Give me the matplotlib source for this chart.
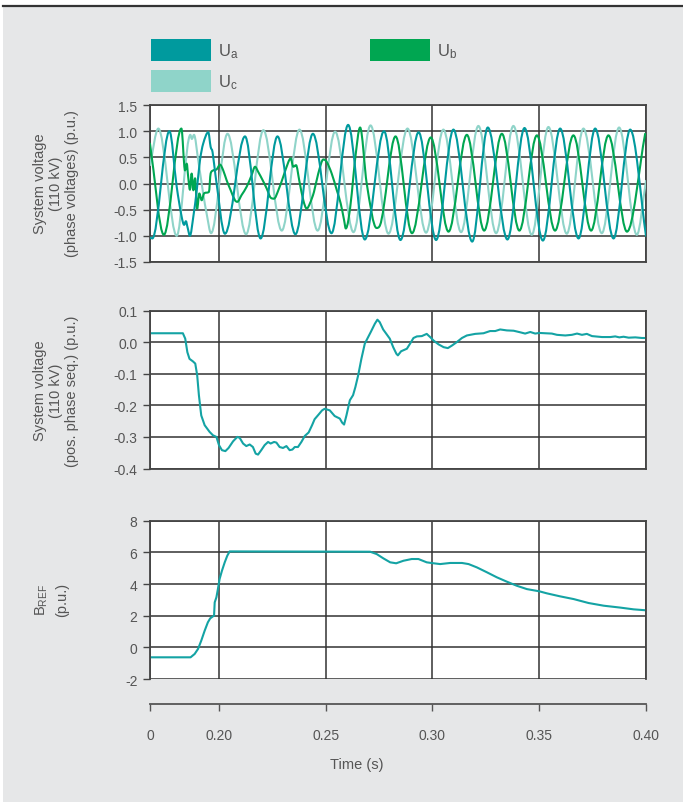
import numpy as np
import matplotlib
matplotlib.use("Agg")
import matplotlib.pyplot as plt
from matplotlib.path import Path
from matplotlib.patches import PathPatch, Patch, Rectangle
from matplotlib.lines import Line2D

plt.rcParams['font.family'] = ['Liberation Sans', 'DejaVu Sans']
plt.rcParams['axes.unicode_minus'] = False
plt.rcParams['mathtext.fontset'] = 'custom'
plt.rcParams['mathtext.rm'] = 'Liberation Sans'
plt.rcParams['mathtext.it'] = 'Liberation Sans'

# time axis: plotted window starts at t0 (labelled "0")
t0 = 0.1677
x_ticks = [t0, 0.20, 0.25, 0.30, 0.35, 0.40]
x_ticklabels = ["0", "0.20", "0.25", "0.30", "0.35", "0.40"]

# phase voltages - extrema / key points
ua_t = [0.1677, 0.1688, 0.1768, 0.1802, 0.1825, 0.1837, 0.1845, 0.1853, 0.1864, 0.1880,
        0.1896, 0.1911, 0.1926, 0.1950, 0.1961, 0.1970, 0.1984, 0.2028, 0.2122, 0.2195,
        0.2274, 0.2358, 0.2440, 0.2527, 0.2605, 0.2683, 0.2773, 0.2850, 0.2935, 0.3017,
        0.3098, 0.3186, 0.3259, 0.3351, 0.3431, 0.3517, 0.3598, 0.3684, 0.3762, 0.3848,
        0.3926, 0.4000]
ua_v = [-1.03, -1.05, 1.00, -0.06, -0.63, -0.79, -0.72, -0.84, -1.00, -0.63,
        -0.13, 0.44, 0.76, 0.98, 0.70, 0.60, 0.15, -0.96, 0.90, -1.05,
        0.90, -0.97, 0.95, -0.95, 1.12, -1.07, 1.00, -1.08, 0.98, -1.08,
        1.03, -1.11, 1.07, -1.07, 1.06, -1.09, 1.05, -1.05, 1.05, -1.05,
        1.03, -1.00]

ub_t = [0.1677, 0.1742, 0.1824, 0.1841, 0.1849, 0.1856, 0.1864, 0.1872, 0.1880, 0.1888,
        0.1898, 0.1908, 0.1919, 0.1930, 0.1953, 0.1961, 0.1973, 0.1989, 0.2005, 0.2020,
        0.2036, 0.2055, 0.2075, 0.2086, 0.2106, 0.2130, 0.2153, 0.2169, 0.2184, 0.2205,
        0.2224, 0.2242, 0.2258, 0.2278, 0.2301, 0.2325, 0.2336, 0.2348, 0.2361, 0.2376,
        0.2395, 0.2411, 0.2426, 0.2445, 0.2465, 0.2489, 0.2505, 0.2528, 0.2552, 0.2570,
        0.2586, 0.2594, 0.2606, 0.2622, 0.2637, 0.2661, 0.2692, 0.2738, 0.2754, 0.2827,
        0.2904, 0.2992, 0.3075, 0.3161, 0.3242, 0.3325, 0.3407, 0.3489, 0.3574, 0.3660,
        0.3743, 0.3824, 0.3911, 0.3996]
ub_v = [0.76, -0.98, 1.05, 0.25, 0.38, 0.12, -0.12, 0.19, -0.13, 0.10,
        -0.48, -0.19, -0.32, -0.19, -0.16, 0.19, 0.25, 0.27, 0.36, 0.25,
        0.06, -0.13, -0.32, -0.35, -0.22, -0.06, 0.16, 0.32, 0.22, 0.06,
        -0.10, -0.27, -0.29, -0.13, 0.13, 0.41, 0.48, 0.32, 0.35, 0.06,
        -0.32, -0.48, -0.38, -0.16, 0.19, 0.46, 0.41, 0.19, -0.13, -0.38,
        -0.70, -0.86, -0.70, -0.19, 0.44, 1.07, 0.00, -0.85, -0.80, 0.90,
        -0.95, 0.88, -0.92, 0.93, -0.90, 0.95, -0.90, 0.92, -0.90, 0.92,
        -0.90, 0.92, -0.92, 0.95]

uc_t = [0.1677, 0.1716, 0.1802, 0.1866, 0.1873, 0.1883, 0.1903, 0.1926, 0.1942, 0.1963,
        0.2040, 0.2127, 0.2208, 0.2294, 0.2377, 0.2462, 0.2544, 0.2630, 0.2710, 0.2794,
        0.2883, 0.2970, 0.3051, 0.3134, 0.3215, 0.3298, 0.3379, 0.3465, 0.3543, 0.3629,
        0.3707, 0.3793, 0.3874, 0.3957, 0.4000]
uc_v = [0.35, 1.05, -1.00, 0.93, 0.85, 0.93, 0.44, -0.19, -0.57, -0.95,
        0.95, -0.97, 1.02, -0.90, 1.03, -0.90, 0.99, -0.93, 1.11, -0.96,
        1.05, -0.94, 1.03, -0.93, 1.10, -0.95, 1.10, -0.98, 1.08, -0.96,
        1.05, -0.95, 1.07, -0.98, 0.05]

# positive phase sequence voltage
pos_t = [0.1677, 0.1831, 0.1842, 0.1852, 0.1862, 0.1878, 0.1889, 0.1898, 0.1906, 0.1917,
         0.1933, 0.1956, 0.1972, 0.1988, 0.2000, 0.2014, 0.2030, 0.2045, 0.2066, 0.2086,
         0.2097, 0.2113, 0.2128, 0.2144, 0.2159, 0.2172, 0.2183, 0.2198, 0.2214, 0.2230,
         0.2242, 0.2258, 0.2269, 0.2284, 0.2300, 0.2316, 0.2331, 0.2344, 0.2355, 0.2370,
         0.2386, 0.2402, 0.2420, 0.2436, 0.2448, 0.2467, 0.2483, 0.2495, 0.2519, 0.2542,
         0.2566, 0.2577, 0.2586, 0.2597, 0.2613, 0.2628, 0.2639, 0.2652, 0.2667, 0.2683,
         0.2695, 0.2711, 0.2730, 0.2742, 0.2753, 0.2769, 0.2784, 0.2800, 0.2816, 0.2831,
         0.2838, 0.2853, 0.2880, 0.2895, 0.2911, 0.2927, 0.2950, 0.2973, 0.2989, 0.3005,
         0.3028, 0.3052, 0.3072, 0.3091, 0.3114, 0.3138, 0.3161, 0.3200, 0.3239, 0.3270,
         0.3294, 0.3317, 0.3348, 0.3380, 0.3411, 0.3434, 0.3458, 0.3481, 0.3500, 0.3528,
         0.3559, 0.3583, 0.3622, 0.3653, 0.3677, 0.3700, 0.3723, 0.3747, 0.3794, 0.3833,
         0.3856, 0.3875, 0.3895, 0.3919, 0.3950, 0.3981, 0.4000]
pos_v = [0.028, 0.028, 0.011, -0.032, -0.053, -0.061, -0.068, -0.105, -0.168, -0.232,
         -0.263, -0.284, -0.295, -0.300, -0.326, -0.342, -0.345, -0.335, -0.314, -0.300,
         -0.303, -0.321, -0.329, -0.324, -0.332, -0.353, -0.356, -0.342, -0.326, -0.316,
         -0.321, -0.316, -0.318, -0.332, -0.335, -0.329, -0.342, -0.340, -0.332, -0.332,
         -0.316, -0.297, -0.286, -0.263, -0.244, -0.229, -0.216, -0.211, -0.216, -0.234,
         -0.242, -0.255, -0.261, -0.232, -0.184, -0.168, -0.142, -0.105, -0.053, -0.005,
         0.011, 0.032, 0.058, 0.071, 0.063, 0.040, 0.026, 0.011, -0.016, -0.037,
         -0.042, -0.029, -0.021, -0.005, 0.013, 0.018, 0.019, 0.026, 0.016, 0.005,
         -0.007, -0.016, -0.019, -0.011, 0.000, 0.013, 0.021, 0.026, 0.028, 0.035,
         0.035, 0.040, 0.037, 0.036, 0.031, 0.027, 0.032, 0.027, 0.029, 0.028,
         0.027, 0.023, 0.021, 0.023, 0.027, 0.023, 0.026, 0.019, 0.016, 0.016,
         0.018, 0.015, 0.017, 0.014, 0.015, 0.013, 0.013]

# B_REF
b_t = [0.1677, 0.1867, 0.1886, 0.1902, 0.1917, 0.1933, 0.1948, 0.1959, 0.1972, 0.1977,
       0.1980, 0.1988, 0.1995, 0.2003, 0.2014, 0.2027, 0.2039, 0.2050, 0.2708, 0.2739,
       0.2770, 0.2802, 0.2830, 0.2864, 0.2903, 0.2934, 0.2973, 0.3005, 0.3036, 0.3083,
       0.3138, 0.3169, 0.3208, 0.3255, 0.3302, 0.3348, 0.3395, 0.3442, 0.3500, 0.3536,
       0.3598, 0.3661, 0.3731, 0.3802, 0.3880, 0.3942, 0.4000]
b_v = [-0.63, -0.63, -0.42, -0.10, 0.42, 1.05, 1.58, 1.83, 1.96, 2.00,
       2.84, 3.16, 3.68, 4.32, 4.84, 5.37, 5.79, 6.06, 6.04, 5.89,
       5.62, 5.37, 5.31, 5.47, 5.58, 5.58, 5.37, 5.31, 5.26, 5.33,
       5.33, 5.26, 5.05, 4.74, 4.42, 4.15, 3.89, 3.68, 3.54, 3.41,
       3.22, 3.05, 2.80, 2.63, 2.51, 2.40, 2.34]

c_a = "#009a9e"
c_b = "#00a651"
c_c = "#8fd4c9"
c_line = "#14a3a4"
txt = "#555555"
grid_c = "#333333"


def smooth_curve(ax, t, v, color, lw=1.5, z=3):
    # smooth line through the points (horizontal tangent at turning points)
    t = np.asarray(t, float)
    v = np.asarray(v, float)
    n = len(t)
    d = np.diff(v) / np.diff(t)
    m = np.zeros(n)
    m[0], m[-1] = d[0], d[-1]
    for i in range(1, n - 1):
        if d[i - 1] * d[i] > 0:
            s = (v[i + 1] - v[i - 1]) / (t[i + 1] - t[i - 1])
            lim = 3 * min(abs(d[i - 1]), abs(d[i]))
            m[i] = np.sign(s) * min(abs(s), lim)
    verts = [(t[0], v[0])]
    codes = [Path.MOVETO]
    for i in range(n - 1):
        h = t[i + 1] - t[i]
        verts += [(t[i] + h / 3, v[i] + m[i] * h / 3),
                  (t[i + 1] - h / 3, v[i + 1] - m[i + 1] * h / 3),
                  (t[i + 1], v[i + 1])]
        codes += [Path.CURVE4] * 3
    ax.add_patch(PathPatch(Path(verts, codes), fill=False, edgecolor=color,
                           lw=lw, zorder=z, capstyle='round', joinstyle='round'))


fig = plt.figure(figsize=(6.83, 8.03), dpi=100)
fig.patch.set_facecolor("white")
fig.add_artist(Rectangle((3 / 683, 0), 680 / 683, 796 / 803, transform=fig.transFigure,
                         facecolor="#e6e7e8", edgecolor="none", zorder=-5))
fig.add_artist(Line2D([3 / 683, 1], [1 - 6.5 / 803, 1 - 6.5 / 803], transform=fig.transFigure,
                      color="#333333", lw=1.6))

L, W = 150 / 683, 496 / 683
ax1 = fig.add_axes([L, 1 - 263 / 803, W, 157 / 803])
ax2 = fig.add_axes([L, 1 - 469.5 / 803, W, 158 / 803])
ax3 = fig.add_axes([L, 1 - 680 / 803, W, 158.3 / 803])

smooth_curve(ax1, uc_t, uc_v, c_c, z=3)
smooth_curve(ax1, ub_t, ub_v, c_b, z=4)
smooth_curve(ax1, ua_t, ua_v, c_a, z=5)
ax2.plot(pos_t, pos_v, color=c_line, lw=1.5)
ax3.plot(b_t, b_v, color=c_line, lw=1.5)

ax1.set_ylim(-1.5, 1.5)
ax1.set_yticks([1.5, 1.0, 0.5, 0.0, -0.5, -1.0, -1.5])
ax1.set_yticklabels(["1.5", "1.0", "0.5", "0.0", "-0.5", "-1.0", "-1.5"])
ax2.set_ylim(-0.4, 0.1)
ax2.set_yticks([0.1, 0.0, -0.1, -0.2, -0.3, -0.4])
ax2.set_yticklabels(["0.1", "0.0", "-0.1", "-0.2", "-0.3", "-0.4"])
ax3.set_ylim(-2, 8)
ax3.set_yticks([8, 6, 4, 2, 0, -2])
ax3.set_yticklabels(["8", "6", "4", "2", "0", "-2"])

for ax in (ax1, ax2, ax3):
    ax.set_facecolor("white")
    ax.set_xlim(t0, 0.40)
    ax.set_xticks(x_ticks)
    ax.set_axisbelow(True)
    ax.grid(True, color=grid_c, lw=1.1)
    for s in ax.spines.values():
        s.set_color("#444444")
        s.set_linewidth(1.3)
    ax.tick_params(axis='y', direction='out', length=5, width=1, color="#444444",
                   labelsize=10, labelcolor=txt, pad=4)

for ax in (ax1, ax2):
    ax.tick_params(axis='x', length=0, labelbottom=False)

ax3.spines['bottom'].set_position(('outward', 18))
ax3.spines['bottom'].set_color("#555555")
ax3.set_xticklabels(x_ticklabels)
ax3.tick_params(axis='x', direction='out', length=5, width=1, color="#555555",
                labelsize=10, labelcolor=txt, pad=12)
ax3.set_xlabel("Time (s)", fontsize=10.5, color=txt)
ax3.xaxis.set_label_coords(0.417, -0.495)

# y labels
fig.text(56 / 683, 1 - 184 / 803, "System voltage\n(110 kV)\n(phase voltages) (p.u.)",
         rotation=90, ha='center', va='center', fontsize=10.5, color=txt, linespacing=1.2)
fig.text(56 / 683, 1 - 391 / 803, "System voltage\n(110 kV)\n(pos. phase seq.) (p.u.)",
         rotation=90, ha='center', va='center', fontsize=10.5, color=txt, linespacing=1.2)
fig.text(51 / 683, 1 - 600 / 803, "B$_{\\mathrm{REF}}$\n(p.u.)",
         rotation=90, ha='center', va='center', fontsize=10.5, color=txt, linespacing=1.45)

# legend
handles = [Patch(facecolor=c_a, edgecolor='none'), Patch(facecolor=c_c, edgecolor='none'),
           Patch(facecolor=c_b, edgecolor='none')]
labels = ["U$_{\\mathrm{a}}$", "U$_{\\mathrm{c}}$", "U$_{\\mathrm{b}}$"]
leg = fig.legend(handles, labels, loc='upper left', bbox_to_anchor=(151 / 683, 1 - 40 / 803),
                 ncol=2, frameon=False, fontsize=12, handlelength=3.6, handleheight=1.62,
                 handletextpad=0.4, columnspacing=7.9, labelspacing=0.56, borderpad=0,
                 borderaxespad=0)
for tx in leg.get_texts():
    tx.set_color(txt)

fig.savefig("out.png", dpi=100, facecolor=fig.get_facecolor())
